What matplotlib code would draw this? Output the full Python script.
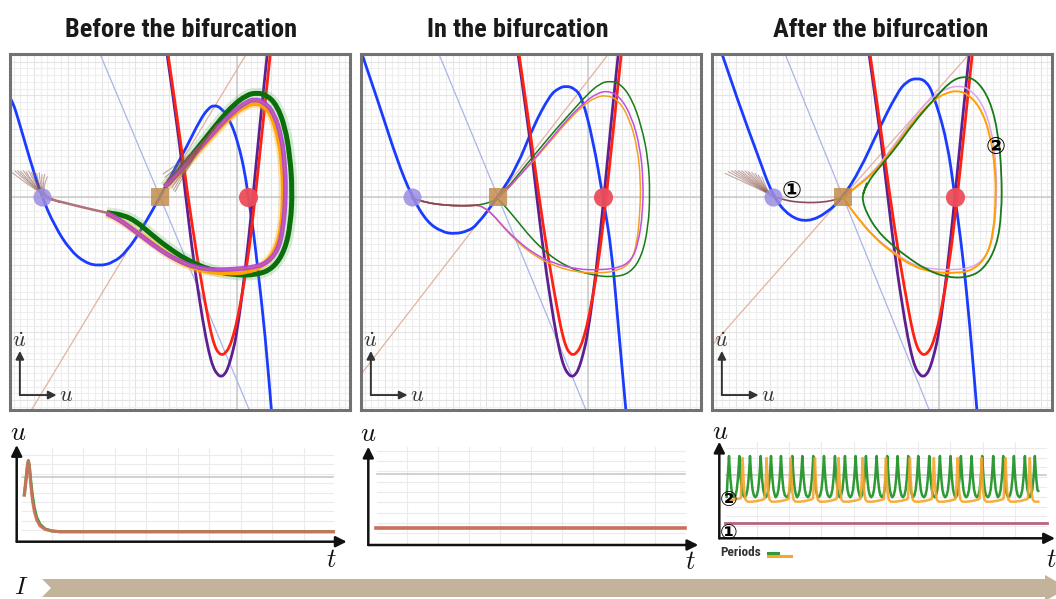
import numpy as np
import matplotlib
matplotlib.use("Agg")
import matplotlib.pyplot as plt
from matplotlib.path import Path
from matplotlib.patches import PathPatch, Polygon
from matplotlib import font_manager

plt.rcParams["mathtext.fontset"] = "cm"
plt.rcParams["font.family"] = ["DejaVu Sans", "Noto Sans CJK JP"]

TITLES = ["Before the bifurcation", "In the bifurcation", "After the bifurcation"]

# ---------------- phase plane (u, u_dot) ----------------
# u_dot nullcline for the three input levels
BLUE_BEFORE_U = [-22.8, -22.47, -21.7, -20.7, -19.53, -18.2, -16.7, -15.2, -13.8, -12.37, -11.03, -9.37,
                 -7.7, -6.37, -5.03, -3.7, -2.87, -2.27, -1.53, -0.7, 0.13, 0.8, 1.13, 1.63, 2.13, 2.8, 3.5]
BLUE_BEFORE_V = [10.0, 9.7, 7.2, 3.7, 0.03, -2.97, -5.3, -6.57, -6.9, -6.57, -5.47, -2.97,
                 0.03, 2.53, 5.03, 7.7, 8.87, 9.2, 8.87, 7.7, 5.37, 2.37, 0.0, -3.3, -7.63, -13.63, -22.0]
BLUE_IN_U = [-22.7, -20.8, -19.1, -17.6, -16.1, -14.6, -13.3, -12.0, -11.1, -9.0, -7.1, -5.5,
             -3.8, -2.9, -2.2, -1.4, -0.6, 0.5, 1.5, 2.4, 3.0, 3.85]
BLUE_IN_V = [14.6, 9.0, 3.7, 0.0, -2.5, -3.5, -3.7, -3.4, -2.8, 0.0, 3.0, 7.0,
             10.2, 10.9, 11.1, 10.9, 10.0, 5.7, 0.0, -5.6, -12.6, -22.0]
BLUE_AFTER_U = [-21.8, -19.9, -18.2, -16.6, -14.9, -13.1, -11.2, -9.6, -7.9, -6.2,
                -4.2, -3.2, -2.2, -1.3, -0.6, 0.8, 1.6, 2.4, 3.1, 3.85]
BLUE_AFTER_V = [14.6, 9.0, 4.4, 0.0, -2.0, -2.5, -1.6, 0.0, 2.7, 6.4,
                10.4, 11.6, 11.9, 11.6, 10.4, 5.7, 0.0, -6.0, -13.0, -22.0]

# w nullclines (same at every input level)
RED_U = [-7.0, -5.9, -4.9, -4.0, -3.0, -2.6, -2.2, -1.85, -1.5, -1.15, -0.75, -0.35, 0.1, 1.0, 1.8, 2.5, 3.4]
RED_V = [15.0, 7.4, 0.0, -6.0, -11.6, -13.6, -15.0, -15.6, -15.8, -15.6, -15.0, -13.8, -12.0, -7.0, -0.3, 6.4, 15.0]
PURPLE_U = [-7.1, -6.0, -5.2, -4.4, -3.4, -2.8, -2.4, -2.0, -1.6, -1.2, -0.9, -0.5, 0.0, 0.8, 1.6, 2.3, 3.1]
PURPLE_V = [15.0, 7.4, 0.7, -6.0, -12.6, -15.6, -17.0, -17.7, -18.0, -17.7, -17.1, -15.8, -13.6, -7.6, 0.0, 7.4, 15.0]

# fixed points on the u axis: stable node, saddle, unstable focus
NODE_U = [-19.5, -17.6, -16.6]
SADDLE_U = [-7.7, -9.0, -9.6]
FOCUS_U = [1.1, 1.5, 1.6]
# eigen-directions of the saddle
STABLE_SLOPE = [-2.385, -2.42, -2.47]
UNSTABLE_SLOPE = [1.657, 1.295, 1.133]

# trajectories before the bifurcation
GREEN_BEFORE_U = [-7.2, -5.7, -4.37, -3.03, -1.7, -0.37, 0.97, 1.97, 2.97, 3.97, 4.8, 5.3, 5.53, 5.37, 4.8, 3.63,
                  1.97, -0.37, -2.7, -5.03, -7.03, -8.7, -10.03, -11.37, -13.03]
GREEN_BEFORE_V = [1.03, 2.7, 4.37, 6.03, 7.7, 9.2, 10.2, 10.43, 10.2, 9.2, 7.03, 4.03, 0.7, -2.63, -5.3, -7.13,
                  -7.8, -7.8, -7.3, -6.3, -4.97, -3.63, -2.47, -1.8, -1.57]
ORCHID_BEFORE_U = [-7.2, -5.7, -4.37, -3.03, -1.7, -0.37, 0.97, 1.8, 2.63, 3.63, 4.47, 4.8, 4.87, 4.63, 4.13,
                   2.97, 1.63, -0.37, -2.37, -4.37, -6.03, -7.7, -9.03, -10.37, -11.7, -13.03]
ORCHID_BEFORE_V = [1.03, 2.53, 4.2, 5.7, 7.2, 8.53, 9.53, 9.77, 9.53, 8.53, 6.03, 3.03, 0.03, -2.97, -5.3,
                   -6.63, -7.03, -7.23, -7.3, -6.97, -6.3, -5.3, -4.3, -3.3, -2.3, -1.63]
ORANGE_BEFORE_U = [-7.2, -5.7, -4.37, -3.03, -1.7, -0.37, 0.97, 1.8, 2.63, 3.47, 4.23, 4.57, 4.63, 4.47, 3.9,
                   2.63, 0.97, -1.03, -3.03, -4.7, -6.37, -8.03, -9.37, -10.53, -11.87, -13.03]
ORANGE_BEFORE_V = [1.03, 2.43, 4.03, 5.53, 6.97, 8.3, 9.17, 9.37, 9.17, 8.2, 5.7, 2.7, 0.03, -2.97, -5.3,
                   -6.9, -7.57, -7.63, -7.47, -6.97, -6.13, -4.97, -3.97, -3.13, -2.2, -1.63]
# shared approach to the stable node
TAIL_BEFORE_U = [-12.2, -13.03, -15.03, -17.03, -19.03, -19.5]
TAIL_BEFORE_V = [-1.75, -1.57, -1.13, -0.63, -0.13, 0.0]
# bundles of nearby initial conditions
FAN_LEFT_BEFORE_U = [-22.47, -22.2, -21.93, -21.63, -21.37, -21.1, -20.83, -20.57, -20.3, -20.03, -19.77, -19.5, -19.23, -18.97]
FAN_LEFT_BEFORE_V = [2.43, 2.6, 2.63, 2.57, 2.63, 2.53, 2.6, 2.47, 2.53, 2.37, 2.43, 2.23, 2.3, 2.03]
FAN_LEFT_BEFORE_PATH_U = [-19.7, -17.7]
FAN_LEFT_BEFORE_PATH_V = [0.3, -0.53]
FAN_RIGHT_BEFORE_U = [-7.4, -7.2, -7.03, -6.87, -6.7, -6.53, -6.37, -6.2, -6.0, -5.8]
FAN_RIGHT_BEFORE_V = [2.3, 1.97, 1.7, 1.43, 1.17, 0.9, 0.7, 0.53, 2.6, 3.1]
FAN_RIGHT_BEFORE_PATH_U = [-4.0, -2.03]
FAN_RIGHT_BEFORE_PATH_V = [4.6, 7.2]

# trajectories in the bifurcation
LEAD_IN_U = [-17.63, -16.47, -15.13, -13.47, -11.8, -10.97]
LEAD_IN_V = [-0.13, -0.47, -0.73, -0.87, -0.87, -0.8]
GREEN_IN_U = [-10.13, -9.47, -9.03, -8.13, -7.13, -5.8, -4.13, -2.13, 0.2, 2.53, 4.2, 5.37, 6.03, 6.2, 6.03, 5.37,
              4.37, 3.2, 2.2, 1.2, -0.13, -1.47, -3.13, -4.8, -6.47, -7.8, -8.8, -9.03]
GREEN_IN_V = [-0.63, -0.37, -0.1, -1.13, -2.3, -3.97, -5.63, -6.97, -7.8, -8.03, -7.63, -5.97, -2.97, 0.37, 3.7, 7.03,
              9.87, 11.37, 11.6, 11.37, 10.2, 8.7, 6.87, 4.87, 2.87, 1.2, 0.2, -0.1]
ORCHID_IN_U = [-10.3, -9.47, -8.47, -7.13, -5.47, -3.47, -1.13, 1.2, 3.2, 4.37, 5.03, 5.47, 5.53, 5.2, 4.37,
               3.2, 2.03, 0.87, -0.47, -2.13, -3.8, -5.47, -6.97, -8.13, -9.03]
ORCHID_IN_V = [-1.13, -1.8, -2.97, -4.3, -5.63, -6.63, -7.23, -7.3, -7.07, -6.3, -4.63, -1.63, 1.7, 5.03, 8.03,
               10.03, 10.63, 10.37, 9.37, 7.7, 5.7, 3.7, 2.03, 0.7, -0.1]
ORANGE_IN_U = [-10.3, -9.47, -8.47, -7.13, -5.47, -3.47, -1.13, 1.2, 3.03, 4.27, 4.87, 5.2, 5.27, 4.93, 4.13,
               3.03, 1.87, 0.7, -0.63, -2.2, -3.8, -5.47, -6.97, -8.13, -9.03]
ORANGE_IN_V = [-1.13, -1.8, -3.03, -4.43, -5.8, -6.87, -7.53, -7.63, -7.37, -6.57, -4.8, -1.63, 1.7, 5.03, 7.87,
               9.7, 10.2, 9.97, 9.03, 7.43, 5.53, 3.6, 1.97, 0.7, -0.1]

# trajectories after the bifurcation
FAN_LEFT_AFTER_U = [-21.4, -21.07, -20.73, -20.4, -20.07, -19.73, -19.4, -19.07, -18.73, -18.4, -18.07, -17.73]
FAN_LEFT_AFTER_V = [2.37, 2.53, 2.6, 2.63, 2.63, 2.6, 2.6, 2.53, 2.47, 2.37, 2.2, 2.03]
FAN_LEFT_AFTER_PATH_U = [-17.07, -16.57]
FAN_LEFT_AFTER_PATH_V = [0.37, 0.03]
MAROON_AFTER_U = [-16.57, -15.23, -13.9, -12.57, -11.23, -10.23, -9.57]
MAROON_AFTER_V = [0.03, -0.37, -0.53, -0.57, -0.47, -0.23, -0.03]
GREEN_AFTER_U = [-7.57, -7.23, -5.9, -4.23, -2.57, -0.57, 1.1, 2.43, 3.77, 5.1, 5.93, 6.27, 6.27, 5.77, 4.43,
                 2.77, 0.77, -1.23, -3.23, -4.9, -6.23, -7.23, -7.67, -7.57, -7.23]
GREEN_AFTER_V = [0.37, 1.37, 3.03, 5.03, 7.37, 9.7, 11.53, 12.1, 11.7, 9.7, 6.37, 2.37, -1.63, -4.97, -7.3,
                 -8.07, -8.03, -7.3, -5.97, -4.63, -3.3, -1.63, -0.3, 0.37, 1.37]
ORANGE_AFTER_U = [-9.57, -8.23, -6.57, -5.23, -3.9, -2.23, -0.57, 0.77, 1.77, 2.77, 4.1, 5.1, 5.6, 5.7, 5.43,
                  4.77, 3.43, 1.77, -0.57, -2.57, -4.57, -6.57, -8.23, -9.23, -9.57]
ORANGE_AFTER_V = [-0.03, 1.03, 2.37, 4.03, 5.7, 8.03, 9.7, 10.43, 10.63, 10.37, 9.03, 6.37, 3.03, 0.03, -3.63,
                  -5.97, -7.3, -7.63, -7.53, -6.97, -5.63, -3.97, -1.97, -0.63, -0.03]
LILAC_AFTER_U = [-9.57, -8.23, -6.57, -5.23, -3.9, -2.23, -0.57, 0.77, 1.93, 2.93, 4.27, 5.27, 5.7, 5.77, 5.5,
                 4.83, 3.6, 1.77, -0.57, -2.57, -4.57, -6.57, -8.23, -9.23, -9.57]
LILAC_AFTER_V = [-0.03, 1.1, 2.53, 4.2, 5.97, 8.37, 10.1, 10.87, 11.13, 10.87, 9.53, 6.7, 3.37, 0.03, -3.63,
                 -5.8, -6.97, -7.3, -7.23, -6.83, -5.5, -3.9, -1.9, -0.63, -0.03]
MARK1_AFTER = (-14.73, 0.63)
MARK2_AFTER = (5.7, 5.03)

# ---------------- time courses of u ----------------
TS_BEFORE_RED_T = [0.137, 0.19, 0.233, 0.265, 0.296, 0.339, 0.392, 0.455, 0.529, 0.635, 0.794, 1.005, 1.27, 9.95]
TS_BEFORE_RED_U = [4.74, 6.34, 7.76, 8.40, 7.76, 5.98, 4.20, 2.96, 2.07, 1.43, 1.07, 0.90, 0.82, 0.82]
TS_BEFORE_GREEN_T = [0.137, 0.19, 0.233, 0.265, 0.296, 0.339, 0.392, 0.455, 0.529, 0.635, 0.794, 1.005, 1.27, 9.95]
TS_BEFORE_GREEN_U = [4.74, 6.34, 7.76, 8.40, 7.85, 6.3, 4.7, 3.35, 2.35, 1.6, 1.12, 0.9, 0.82, 0.82]
TS_BEFORE_GRAY = 6.62
TS_IN_T = [0.0, 9.95]
TS_IN_U = [1.53, 1.53]
TS_IN_GRAY = 6.74
TS_AFTER_FLAT_T = [0.02, 9.98]
TS_AFTER_FLAT_U = [1.30, 1.30]
TS_AFTER_GRAY = 6.22
GREEN_PEAKS = [0.142, 0.462, 0.793, 1.123, 1.443, 1.752, 2.103, 2.413, 2.753, 3.084, 3.424, 3.734, 4.064, 4.384,
               4.714, 5.044, 5.364, 5.694, 6.004, 6.345, 6.675, 7.005, 7.325, 7.655, 7.985, 8.326, 8.636, 8.966,
               9.307, 9.616]
GREEN_WAVE_DT = [-0.164, -0.12, -0.08, -0.045, -0.02, 0.0, 0.02, 0.045, 0.08, 0.12]
GREEN_WAVE_U = [3.95, 4.15, 4.7, 5.8, 7.0, 8.16, 7.0, 5.8, 4.7, 4.15]
GREEN_START = (0.07, 4.0)
GREEN_END = (9.72, 4.6)
ORANGE_PEAKS = [0.566, 1.309, 2.052, 2.805, 3.538, 4.281, 5.003, 5.746, 6.489, 7.222, 7.965, 8.708, 9.461]
ORANGE_WAVE_DT = [-0.06, -0.03, 0.0, 0.02, 0.05, 0.09, 0.15, 0.3, 0.5, 0.66]
ORANGE_WAVE_U = [3.85, 5.6, 7.96, 6.3, 4.5, 3.7, 3.5, 3.5, 3.6, 3.75]
ORANGE_START = (0.07, 3.55)
ORANGE_END = (9.72, 3.5)

W, H = 1056, 599
fig = plt.figure(figsize=(W / 100, H / 100), dpi=100)
fig.patch.set_facecolor("white")


def fig_box(l, t, r, b):
    return [l / W, 1 - b / H, (r - l) / W, (b - t) / H]


def curve(ax, u, v, **kw):
    """Smooth quadratic-Bezier path through the listed points."""
    pts = np.column_stack([u, v]).astype(float)
    verts, codes = [pts[0]], [Path.MOVETO]
    for i in range(1, len(pts) - 1):
        verts += [pts[i], (pts[i] + pts[i + 1]) / 2]
        codes += [Path.CURVE3, Path.CURVE3]
    verts.append(pts[-1])
    codes.append(Path.LINETO)
    kw.setdefault("capstyle", "round")
    kw.setdefault("joinstyle", "round")
    ax.add_patch(PathPatch(Path(verts, codes), fill=False, **kw))


def pick_title_font():
    names = {f.name for f in font_manager.fontManager.ttflist}
    for cand in ["Liberation Sans Narrow", "DejaVu Sans Condensed", "Roboto Condensed",
                 "Open Sans Condensed", "Liberation Sans"]:
        if cand in names:
            return cand
    return "DejaVu Sans"


TITLE_FONT = pick_title_font()

U_LIM = (-22.7, 11.3)
V_LIM = (-21.3, 14.3)
GRID_STEP = 0.677

phase_boxes = [(10, 54, 350, 410), (361, 54, 701, 410), (712, 54, 1052, 410)]
blues = [(BLUE_BEFORE_U, BLUE_BEFORE_V), (BLUE_IN_U, BLUE_IN_V), (BLUE_AFTER_U, BLUE_AFTER_V)]
title_x = [181, 518, 881]

phase_axes = []
for k in range(3):
    ax = fig.add_axes(fig_box(*phase_boxes[k]))
    phase_axes.append(ax)
    ax.set_xlim(*U_LIM)
    ax.set_ylim(*V_LIM)
    ax.set_xticks([])
    ax.set_yticks([])
    for s in ax.spines.values():
        s.set_color("#727272")
        s.set_linewidth(2.2)
        s.set_zorder(20)
    # fine grid
    for i in range(int(U_LIM[0] / GRID_STEP) - 1, int(U_LIM[1] / GRID_STEP) + 2):
        ax.axvline(i * GRID_STEP, color="#e4e4e4" if i % 5 == 0 else "#eeeeee", lw=0.8, zorder=0)
    for j in range(int(V_LIM[0] / GRID_STEP) - 1, int(V_LIM[1] / GRID_STEP) + 2):
        ax.axhline(j * GRID_STEP, color="#e4e4e4" if j % 5 == 0 else "#eeeeee", lw=0.8, zorder=0)
    ax.axvline(0, color="#cdcdcd", lw=1.2, zorder=1)
    ax.axhline(0, color="#cdcdcd", lw=1.2, zorder=1)
    # saddle eigen-directions
    ax.axline((SADDLE_U[k], 0), slope=STABLE_SLOPE[k], color="#a9b6e6", lw=0.9, zorder=2)
    ax.axline((SADDLE_U[k], 0), slope=UNSTABLE_SLOPE[k], color="#e3b2a0", lw=0.9, zorder=2)
    # nullclines
    bu, bv = blues[k]
    curve(ax, bu, bv, edgecolor="#1a3cff", lw=2.0, zorder=3)
    curve(ax, PURPLE_U, PURPLE_V, edgecolor="#5b2191", lw=2.0, zorder=3)
    curve(ax, RED_U, RED_V, edgecolor="#ff2212", lw=2.0, zorder=3)
    # axis icon
    ax.annotate("", xy=(0.029, 0.166), xytext=(0.029, 0.042), xycoords="axes fraction",
                arrowprops=dict(arrowstyle="-|>", color="#333333", lw=1.4, mutation_scale=12,
                                shrinkA=0, shrinkB=0), zorder=15)
    ax.annotate("", xy=(0.137, 0.042), xytext=(0.029, 0.042), xycoords="axes fraction",
                arrowprops=dict(arrowstyle="-|>", color="#333333", lw=1.4, mutation_scale=12,
                                shrinkA=0, shrinkB=0), zorder=15)
    ax.text(0.026, 0.195, r"$\dot{u}$", transform=ax.transAxes, fontsize=16, ha="center", va="center",
            color="#333333", zorder=15)
    ax.text(0.165, 0.042, r"$u$", transform=ax.transAxes, fontsize=16, ha="center", va="center",
            color="#333333", zorder=15)
    fig.text(title_x[k] / W, 1 - 37 / H, TITLES[k], ha="center", va="baseline", fontsize=19,
             fontweight="bold", family=TITLE_FONT, color="#1a1a1a")

BROWN = "#8c574c"

# --- before the bifurcation ---
ax = phase_axes[0]
for su, sv in zip(FAN_LEFT_BEFORE_U, FAN_LEFT_BEFORE_V):
    curve(ax, [su] + FAN_LEFT_BEFORE_PATH_U, [sv] + FAN_LEFT_BEFORE_PATH_V,
          edgecolor=BROWN, lw=0.8, alpha=0.5, zorder=4)
for su, sv in zip(FAN_RIGHT_BEFORE_U, FAN_RIGHT_BEFORE_V):
    curve(ax, [su] + FAN_RIGHT_BEFORE_PATH_U, [sv] + FAN_RIGHT_BEFORE_PATH_V,
          edgecolor=BROWN, lw=0.8, alpha=0.55, zorder=6)
curve(ax, TAIL_BEFORE_U, TAIL_BEFORE_V, edgecolor="#b0707a", lw=1.8, zorder=5)
curve(ax, GREEN_BEFORE_U, GREEN_BEFORE_V, edgecolor="#4caf50", lw=8, alpha=0.22, zorder=4, capstyle="butt")
curve(ax, GREEN_BEFORE_U, GREEN_BEFORE_V, edgecolor="#0a6e0a", lw=3.6, zorder=5, capstyle="butt")
curve(ax, ORANGE_BEFORE_U, ORANGE_BEFORE_V, edgecolor="#ffb020", lw=6, alpha=0.35, zorder=4, capstyle="butt")
curve(ax, ORANGE_BEFORE_U, ORANGE_BEFORE_V, edgecolor="#ffa500", lw=3.2, zorder=5, capstyle="butt")
curve(ax, ORCHID_BEFORE_U, ORCHID_BEFORE_V, edgecolor="#b040e0", lw=3.4, alpha=0.9, zorder=5, capstyle="butt")
curve(ax, ORCHID_BEFORE_U, ORCHID_BEFORE_V, edgecolor="#c86a8a", lw=1.0, alpha=0.8, zorder=5)

# --- in the bifurcation ---
ax = phase_axes[1]
curve(ax, LEAD_IN_U + GREEN_IN_U, LEAD_IN_V + GREEN_IN_V, edgecolor="#187a18", lw=1.1, zorder=5)
curve(ax, LEAD_IN_U + ORANGE_IN_U, LEAD_IN_V + ORANGE_IN_V, edgecolor="#f5a020", lw=1.1, zorder=5)
curve(ax, LEAD_IN_U + ORCHID_IN_U, LEAD_IN_V + ORCHID_IN_V, edgecolor="#c050e0", lw=1.1, zorder=5)
curve(ax, LEAD_IN_U, LEAD_IN_V, edgecolor="#8a4a4a", lw=1.2, zorder=6)

# --- after the bifurcation ---
ax = phase_axes[2]
for su, sv in zip(FAN_LEFT_AFTER_U, FAN_LEFT_AFTER_V):
    curve(ax, [su] + FAN_LEFT_AFTER_PATH_U, [sv] + FAN_LEFT_AFTER_PATH_V,
          edgecolor=BROWN, lw=0.8, alpha=0.5, zorder=4)
curve(ax, MAROON_AFTER_U, MAROON_AFTER_V, edgecolor="#8a4a5a", lw=1.2, zorder=5)
curve(ax, LILAC_AFTER_U, LILAC_AFTER_V, edgecolor="#d9a6f0", lw=1.1, zorder=5)
curve(ax, ORANGE_AFTER_U, ORANGE_AFTER_V, edgecolor="#ffa000", lw=1.4, zorder=5)
curve(ax, GREEN_AFTER_U, GREEN_AFTER_V, edgecolor="#187a18", lw=1.3, zorder=5)
ax.text(*MARK1_AFTER, "\u2460", fontsize=17, ha="center", va="center", fontweight="bold", zorder=12)
ax.text(*MARK2_AFTER, "\u2461", fontsize=17, ha="center", va="center", fontweight="bold", zorder=12)

for k, ax in enumerate(phase_axes):
    ax.scatter([NODE_U[k]], [0], s=170, color="#9b8de2", alpha=0.85, lw=0, zorder=9)
    ax.scatter([SADDLE_U[k]], [0], s=170, marker="s", color="#c38d4f", alpha=0.85, lw=0, zorder=9)
    ax.scatter([FOCUS_U[k]], [0], s=190, color="#ec4d5a", alpha=0.95, lw=0, zorder=9)


# ---------------- time-course panels ----------------
def time_axes(l, t, r, b, xlim, ylim, gray_u):
    ax = fig.add_axes(fig_box(l, t, r, b))
    ax.set_xlim(*xlim)
    ax.set_ylim(*ylim)
    ax.axis("off")
    for g in range(1, 10):
        ax.plot([g, g], [0.0, 9.8], color="#ebebeb", lw=0.8, zorder=0)
        ax.plot([0.05, 9.95], [g, g], color="#ebebeb", lw=0.8, zorder=0)
    ax.plot([0.05, 9.95], [gray_u, gray_u], color="#c9c9c9", lw=1.2, zorder=1)
    for tip in [(1, 0), (0, 1)]:
        ax.annotate("", xy=tip, xytext=(0, 0), xycoords="axes fraction", annotation_clip=False,
                    arrowprops=dict(arrowstyle="-|>", color="#111111", lw=1.8, mutation_scale=16,
                                    shrinkA=0, shrinkB=0))
    return ax


def spike_train(peaks, wave_dt, wave_u, start, end):
    ts, us = [start[0]], [start[1]]
    for i, p in enumerate(peaks):
        hi = peaks[i + 1] + wave_dt[0] if i + 1 < len(peaks) else end[0]
        for dt, val in zip(wave_dt, wave_u):
            t = p + dt
            if start[0] < t < hi:
                ts.append(t)
                us.append(val)
    ts.append(end[0])
    us.append(end[1])
    return ts, us


ts1 = time_axes(16.7, 445, 346.7, 541.7, (-0.105, 10.37), (-0.245, 10.07), TS_BEFORE_GRAY)
ts1.plot(TS_BEFORE_GREEN_T, TS_BEFORE_GREEN_U, color="#2f9a35", lw=2.2, zorder=3)
ts1.plot(TS_BEFORE_RED_T, TS_BEFORE_RED_U, color="#d5705e", lw=2.2, alpha=0.9, zorder=4)

ts2 = time_axes(368.3, 446.7, 698.3, 545, (-0.235, 10.38), (-0.135, 9.38), TS_IN_GRAY)
ts2.plot(TS_IN_T, TS_IN_U, color="#cc6e5c", lw=2.6, zorder=3)

ts3 = time_axes(719.3, 441.7, 1055, 538.3, (-0.158, 10.24), (-0.235, 9.62), TS_AFTER_GRAY)
gt, gu = spike_train(GREEN_PEAKS, GREEN_WAVE_DT, GREEN_WAVE_U, GREEN_START, GREEN_END)
ot, ou = spike_train(ORANGE_PEAKS, ORANGE_WAVE_DT, ORANGE_WAVE_U, ORANGE_START, ORANGE_END)
ts3.plot(gt, gu, color="#2f9a35", lw=1.8, zorder=3)
ts3.plot(ot, ou, color="#f7a52b", lw=1.8, alpha=0.9, zorder=4)
ts3.plot(TS_AFTER_FLAT_T, TS_AFTER_FLAT_U, color="#b5657c", lw=2.0, zorder=3)
ts3.text(0.12, 3.67, "\u2461", fontsize=15, ha="center", va="center", fontweight="bold", zorder=6)
ts3.text(0.12, 0.28, "\u2460", fontsize=15, ha="center", va="center", fontweight="bold", zorder=6)
ts3.plot([1.35, 1.66], [-1.70, -1.70], color="#2f9a35", lw=2.2, clip_on=False)
ts3.plot([1.35, 2.06], [-2.04, -2.04], color="#f7a52b", lw=2.2, clip_on=False)
fig.text(720 / W, 1 - 552 / H, "Periods", fontsize=9.5, fontweight="bold", family=TITLE_FONT,
         color="#333333", ha="left", va="center")

for (x, y, s) in [(18, 433, "u"), (331.7, 560, "t"), (368.3, 434, "u"), (690, 561.7, "t"),
                  (720, 431.7, "u"), (1051, 560, "t")]:
    fig.text(x / W, 1 - y / H, rf"${s}$", fontsize=19, ha="center", va="center", color="#111111")

# ---------------- input axis ----------------
arrow_px = [(42, 579), (1045, 579), (1045, 575), (1068, 588), (1045, 601), (1045, 597), (42, 597), (51, 588)]
fig.patches.append(Polygon([(x / W, 1 - y / H) for x, y in arrow_px], closed=True,
                           transform=fig.transFigure, facecolor="#c3b39a", edgecolor="none"))
fig.text(21.7 / W, 1 - 587 / H, r"$I$", fontsize=18, ha="center", va="center", color="#111111")

fig.savefig("out.png", dpi=100, facecolor="white")
